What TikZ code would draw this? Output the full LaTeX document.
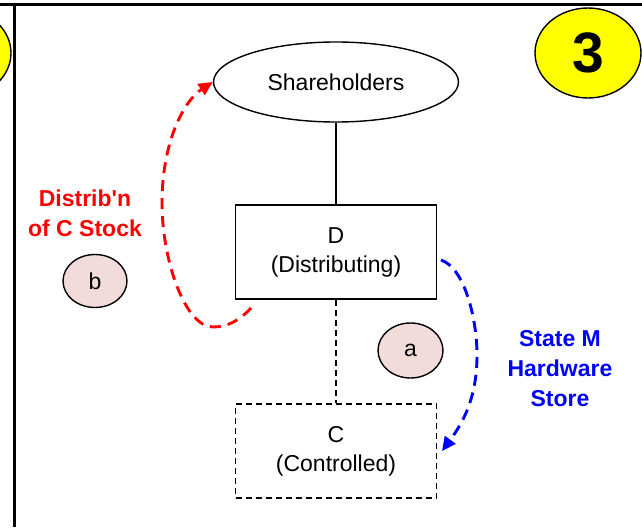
\documentclass[tikz,border=0pt]{standalone}
\usepackage{fontspec}
\setmainfont{Liberation Sans}
\usetikzlibrary{shapes.geometric,arrows.meta}
\definecolor{badge}{RGB}{255,255,0}
\definecolor{tag}{RGB}{242,220,219}
\definecolor{flowred}{RGB}{255,0,0}
\definecolor{flowblue}{RGB}{0,0,255}
\tikzset{
  body/.style={font=\fontsize{23}{29}\selectfont, align=center},
  entity/.style={body, draw, line width=1.4pt, rectangle, inner sep=0pt,
    minimum width=201pt, minimum height=94pt},
  holders/.style={body, draw, line width=1.4pt, ellipse, inner sep=0pt,
    minimum width=245pt, minimum height=80pt},
  steptag/.style={body, draw, line width=1.4pt, ellipse, fill=tag, inner sep=0pt,
    minimum width=64pt, minimum height=53pt},
  numbadge/.style={draw, line width=1.4pt, ellipse, fill=badge, inner sep=0pt,
    minimum width=106pt, minimum height=90pt,
    font=\fontsize{57}{60}\selectfont\bfseries},
  flowlabel/.style={font=\fontsize{23}{30}\selectfont\bfseries, align=center},
  flow/.style={line width=2.9pt, dash pattern=on 11pt off 7pt,
    -{Triangle[length=14pt,width=13pt]}},
  frameline/.style={line width=3.2pt}
}
\begin{document}
\begin{tikzpicture}[x=1pt,y=-1pt]
\useasboundingbox (0,0) rectangle (642,527);

% page frame
\draw[frameline] (0,4.5) -- (642,4.5);
\draw[frameline] (14.2,3) -- (14.2,527);

% step badges
\node[numbadge] (prev) at (-42,53) {};
\node[numbadge] (three) at (588,53) {3};

% entities
\node[holders] (sh) at (336,82) {Shareholders};
\node[entity] (D) at (336,252) {D\\(Distributing)};
\node[entity, dashed, dash pattern=on 6pt off 4pt] (C) at (336,451) {C\\(Controlled)};

\draw[line width=1.4pt] (sh) -- (D);
\draw[line width=1.4pt, dash pattern=on 6pt off 4pt] (D) -- (C);

% step tags
\node[steptag] (b) at (95,281) {b};
\node[steptag, minimum width=65pt, minimum height=55pt] (a) at (410.5,350.5) {a};

% flow labels
\node[flowlabel, text=flowred] (lblb) at (85,213) {Distrib\textquotesingle n\\of C Stock};
\node[flowlabel, text=flowblue] (lbla) at (560,369) {State M\\Hardware\\Store};

% distribution of C stock to shareholders
\coordinate (rs) at (251,308);
\draw[flow, flowred] (rs) .. controls (240,320) and (228,327) .. (213,327)
  .. controls (185,327) and (162,260) .. (162,203)
  .. controls (162,140) and (185,100) .. (sh.west);

% transfer of the hardware store to C
\coordinate (bs) at (441,260);
\coordinate (be) at (442,451);
\draw[flow, flowblue] (bs) .. controls (465,268) and (477,320) .. (477,355)
  .. controls (477,395) and (465,420) .. (be);
\end{tikzpicture}
\end{document}
